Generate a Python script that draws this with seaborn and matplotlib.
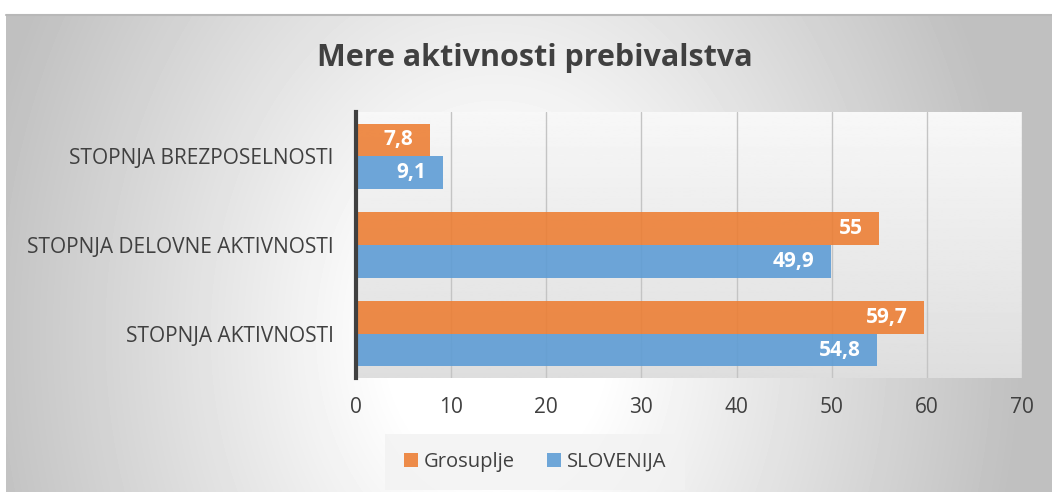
import matplotlib
matplotlib.use("Agg")
import matplotlib.pyplot as plt
from matplotlib.patches import Patch
import seaborn as sns
import pandas as pd
import numpy as np

# podatki
kategorije = ["STOPNJA BREZPOSELNOSTI", "STOPNJA DELOVNE AKTIVNOSTI", "STOPNJA AKTIVNOSTI"]
grosuplje = [7.8, 55, 59.7]
slovenija = [9.1, 49.9, 54.8]
serije = ["Grosuplje", "SLOVENIJA"]
x_ticks = [0, 10, 20, 30, 40, 50, 60, 70]

barve = {"Grosuplje": "#ED7D31", "SLOVENIJA": "#5B9BD5"}

df = pd.DataFrame({
    "kategorija": kategorije * 2,
    "serija": [serije[0]] * 3 + [serije[1]] * 3,
    "vrednost": grosuplje + slovenija,
})

sns.set_style("white")
plt.rcParams["font.family"] = ["Open Sans", "DejaVu Sans"]

fig = plt.figure(figsize=(10.52, 4.92), dpi=100)
fig.patch.set_facecolor("white")

# ozadje grafikona - gradient
bg = fig.add_axes([6 / 1052, 0, 1 - 6 / 1052, 1 - 14 / 492], zorder=-10)
yy, xx = np.mgrid[0:478, 0:1046]
r = np.sqrt(((xx - 490) / 540.0) ** 2 + ((yy - 320) / 700.0) ** 2)
t = np.clip((r - 0.2) / 0.78, 0, 1)
grad = 1.0 - t * (1 - 0.75)
bg.imshow(grad, cmap="gray", vmin=0, vmax=1, aspect="auto", interpolation="bilinear")
bg.set_axis_off()
fig.add_artist(plt.Line2D([6 / 1052, 1], [1 - 14.5 / 492] * 2, color="#b8b8b8", lw=1.5))

ax = fig.add_axes([356 / 1052, 1 - 378 / 492, 666 / 1052, 266 / 492])

sns.barplot(data=df, y="kategorija", x="vrednost", hue="serija", orient="h",
            palette=barve, saturation=1, width=0.74, alpha=0.88, ax=ax,
            legend=False, zorder=3, edgecolor="none")

# ozadje risalne ploskve
pa = np.linspace(0.97, 0.87, 200).reshape(-1, 1)
ax.imshow(pa, cmap="gray", vmin=0, vmax=1, aspect="auto",
          extent=(0, 70, 2.5, -0.5), zorder=0)
ax.set_xlim(0, 70)
ax.set_ylim(2.5, -0.5)

ax.set_xticks(x_ticks)
ax.set_xticklabels([str(v) for v in x_ticks], fontsize=15, color="#404040")
ax.tick_params(axis="y", labelsize=15, labelcolor="#404040", length=0, pad=16)
ax.tick_params(axis="x", pad=14, length=6, direction="in", color="#808080", width=1)
ax.grid(axis="x", color="#c4c4c4", lw=1, zorder=1)
ax.set_axisbelow(True)
for s in ["top", "right", "bottom"]:
    ax.spines[s].set_visible(False)
ax.spines["left"].set_color("#404040")
ax.spines["left"].set_linewidth(3)
ax.spines["left"].set_zorder(5)
ax.set_xlabel("")
ax.set_ylabel("")

# oznake vrednosti
for cont in ax.containers:
    for bar in cont:
        w = bar.get_width()
        lab = f"{w:g}".replace(".", ",")
        ax.annotate(lab, (w, bar.get_y() + bar.get_height() / 2), xytext=(-12, 0),
                    textcoords="offset points", ha="right", va="center",
                    color="white", fontsize=15, fontweight="bold", zorder=6)

fig.text(535 / 1052, 1 - 58 / 492, "Mere aktivnosti prebivalstva", ha="center",
         va="center", fontsize=22, fontweight="bold", color="#404040")

handles = [Patch(facecolor=barve[s], alpha=0.88, edgecolor="none") for s in serije]
leg = fig.legend(handles, serije, loc="center", bbox_to_anchor=(535 / 1052, 1 - 462 / 492),
                 ncol=2, frameon=True, fontsize=14.5, handlelength=0.7, handleheight=0.7,
                 handletextpad=0.3, columnspacing=1.6, borderpad=0.9)
leg.get_frame().set_facecolor("#f2f2f2")
leg.get_frame().set_edgecolor("none")
leg.get_frame().set_boxstyle("square", pad=0)
for t in leg.get_texts():
    t.set_color("#404040")

fig.savefig("out.png", dpi=100)
